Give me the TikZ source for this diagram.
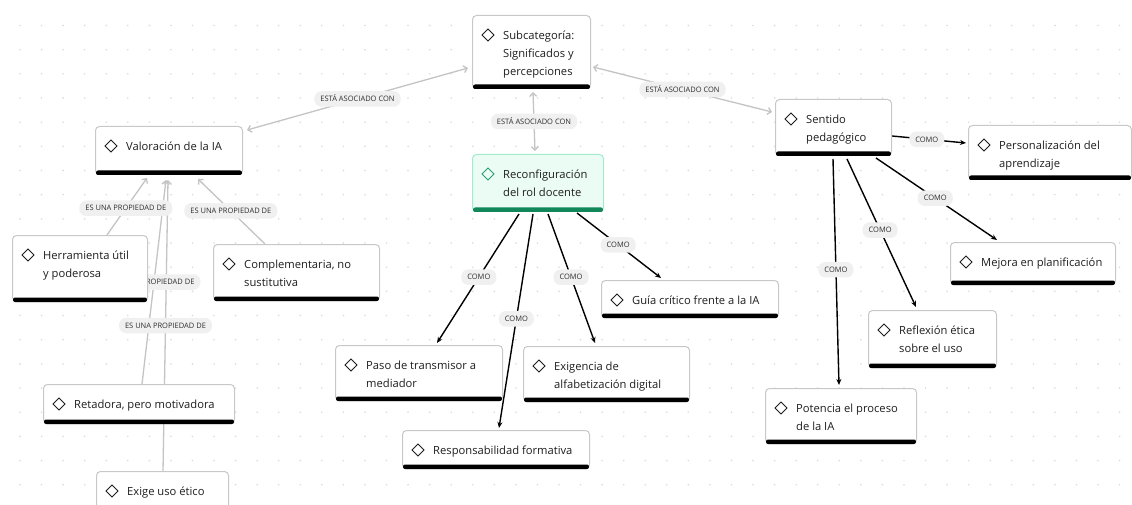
\documentclass[tikz,border=0pt]{standalone}
\usepackage{fontspec}
\setmainfont{Open Sans}
\usetikzlibrary{arrows.meta,calc}
\definecolor{txtc}{HTML}{1E1E1E}
\definecolor{bordc}{HTML}{C8C8C8}
\definecolor{dotc}{HTML}{DCDCDC}
\definecolor{grayln}{HTML}{C4C4C4}
\definecolor{lblfill}{HTML}{F0F0F0}
\definecolor{lbltxt}{HTML}{2E2E2E}
\definecolor{gfill}{HTML}{EBFCF4}
\definecolor{gbord}{HTML}{A3EBCB}
\definecolor{gbar}{HTML}{12875A}
\definecolor{gdia}{HTML}{2A9D70}
\pgfdeclarelayer{gridlayer}
\pgfdeclarelayer{links}
\pgfsetlayers{gridlayer,links,main}
\tikzset{
  cbox/.style={draw=bordc, fill=white, line width=1pt, rounded corners=4pt, inner sep=0pt},
  cbar/.style={fill=black},
  cdia/.style={draw=txtc, line width=0.8pt},
  cbox plain/.style={}, cbar plain/.style={}, cdia plain/.style={},
  cbox green/.style={draw=gbord, fill=gfill},
  cbar green/.style={fill=gbar},
  cdia green/.style={draw=gdia},
  ctext/.style={inner sep=0pt, align=left, text=txtc, font=\fontsize{11.2}{18}\selectfont},
  lbl/.style={fill=lblfill, rounded corners=7pt, inner xsep=6pt, inner ysep=5pt, text=lbltxt,
    font=\fontsize{7.5}{8}\selectfont, text height=5.5pt, text depth=0pt},
  glink/.style={draw=grayln, line width=1.3pt, {Straight Barb[length=3.5pt,width=7pt]}-{Straight Barb[length=3.5pt,width=7pt]}},
  plink/.style={draw=grayln, line width=1.3pt, -{Straight Barb[length=3.5pt,width=7pt]}},
  blink/.style={draw=black, line width=1.4pt, -{Stealth[length=6pt,width=5pt]}}
}
\newcommand\cmnode[7][plain]{%
  \node[cbox, cbox #1, minimum width={#5-#3}, minimum height={#6-#4}, anchor=north west] (#2) at (#3,#4) {};
  \fill[cbar, cbar #1, rounded corners=2pt] ([shift={(1,-4.5)}]#2.south west) rectangle ([shift={(-1,0)}]#2.south east);
  \draw[cdia, cdia #1] ([shift={(16,14)}]#2.north west) -- ++(6,6) -- ++(-6,6) -- ++(-6,-6) -- cycle;
  \node[ctext, anchor=north west] at ([shift={(31,15)}]#2.north west) {\rule{0pt}{9pt}#7};
}
\begin{document}
\begin{tikzpicture}[x=1pt,y=-1pt]
\useasboundingbox (0,0) rectangle (1132,505);
\begin{pgfonlayer}{gridlayer}
\fill[white] (0,0) rectangle (1132,505);
\foreach \i in {0,...,51}{\foreach \j in {0,...,19}{\fill[dotc] (20+\i*21.56,25.5+\j*24.17) circle[radius=0.9pt];}}
\end{pgfonlayer}

\cmnode{sub}{472}{15}{590}{88}{Subcategoría:\\Significados y\\percepciones}
\cmnode[green]{rc}{472}{154}{603}{211}{Reconfiguración\\del rol docente}
\cmnode{val}{95}{126}{242}{174}{Valoración de la IA}
\cmnode{her}{12}{235}{147}{301}{Herramienta útil\\y poderosa}
\cmnode{com}{213}{244}{379}{300}{Complementaria, no\\sustitutiva}
\cmnode{ret}{43}{384}{234}{423}{Retadora, pero motivadora}
\cmnode{exi}{96}{471}{228}{520}{Exige uso ético}
\cmnode{paso}{335}{345}{502}{400}{Paso de transmisor a\\mediador}
\cmnode{resp}{402}{430}{589}{468}{Responsabilidad formativa}
\cmnode{exg}{523}{346}{689}{401}{Exigencia de\\alfabetización digital}
\cmnode{guia}{601}{280}{778}{317}{Guía crítico frente a la IA}
\cmnode{sen}{775}{99}{891}{155}{Sentido\\pedagógico}
\cmnode{per}{968}{125}{1131}{179}{Personalización del\\aprendizaje}
\cmnode{mej}{950}{242}{1115}{284}{Mejora en planificación}
\cmnode{refl}{868}{310}{996}{367}{Reflexión ética\\sobre el uso}
\cmnode{pot}{765}{388}{916}{443}{Potencia el proceso\\de la IA}

\begin{pgfonlayer}{links}
% gray associations
\draw[glink] ([shift={(-4,53)}]sub.north west) -- ([shift={(152,4)}]val.north west) coordinate[pos=.5] (L1);
\draw[glink] ([shift={(121,52)}]sub.north west) -- ([shift={(-3,13)}]sen.north west) coordinate[pos=.5] (L2);
\draw[glink] ([shift={(61,77)}]sub.north west) -- ([shift={(63,-3)}]rc.north west) coordinate[pos=.5] (L3);
% properties
\draw[plink] ([shift={(95,0)}]her.north west) -- ([shift={(52,52)}]val.north west) coordinate[pos=.47] (L4);
\draw[plink] ([shift={(52,0)}]com.north west) -- ([shift={(103,53)}]val.north west) coordinate[pos=.51] (L5);
\draw[plink] ([shift={(99,0)}]ret.north west) -- ([shift={(71,54)}]val.north west) coordinate[pos=.5] (L6);
\draw[plink] ([shift={(67,0)}]exi.north west) -- ([shift={(73,54)}]val.north west) coordinate[pos=.5] (L7);
% reconfiguracion
\draw[blink] ([shift={(47,60)}]rc.north west) -- ([shift={(102,-2)}]paso.north west) coordinate[pos=.49] (L8);
\draw[blink] ([shift={(61,60)}]rc.north west) -- ([shift={(97,-2)}]resp.north west) coordinate[pos=.49] (L9);
\draw[blink] ([shift={(76,60)}]rc.north west) -- ([shift={(72,-3)}]exg.north west) coordinate[pos=.49] (L10);
\draw[blink] ([shift={(105,59)}]rc.north west) -- ([shift={(60,-2)}]guia.north west) coordinate[pos=.49] (L11);
% sentido
\draw[blink] ([shift={(117,37)}]sen.north west) -- ([shift={(-2,18)}]per.north west) coordinate[pos=.47] (L12);
\draw[blink] ([shift={(101,59)}]sen.north west) -- ([shift={(47,-2)}]mej.north west) coordinate[pos=.49] (L13);
\draw[blink] ([shift={(72,60)}]sen.north west) -- ([shift={(48,-3)}]refl.north west) coordinate[pos=.48] (L14);
\draw[blink] ([shift={(58,60)}]sen.north west) -- ([shift={(74,-3)}]pot.north west) coordinate[pos=.49] (L15);
% labels
\node[lbl] at (L1) {ESTÁ ASOCIADO CON};
\node[lbl] at (L2) {ESTÁ ASOCIADO CON};
\node[lbl] at (L3) {ESTÁ ASOCIADO CON};
\node[lbl] at (L4) {ES UNA PROPIEDAD DE};
\node[lbl] at (L5) {ES UNA PROPIEDAD DE};
\node[lbl] at (L6) {ES UNA PROPIEDAD DE};
\node[lbl] at (L7) {ES UNA PROPIEDAD DE};
\foreach \l in {L8,L9,L10,L11,L12,L13,L14,L15}{\node[lbl] at (\l) {COMO};}
\end{pgfonlayer}
\end{tikzpicture}
\end{document}
